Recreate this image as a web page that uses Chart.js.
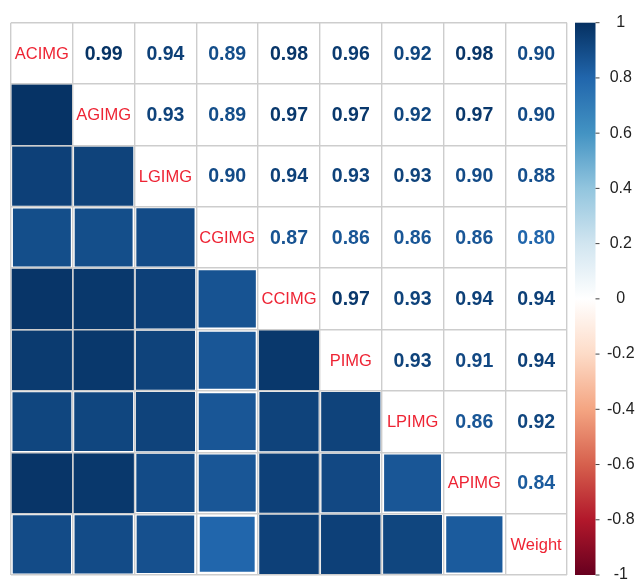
<!DOCTYPE html>
<html>
<head>
<meta charset="utf-8">
<title>Correlation matrix</title>
<script src="https://cdn.jsdelivr.net/npm/chart.js@4"></script>
<style>
  html, body { margin: 0; padding: 0; background: #ffffff; }
  canvas { display: block; }
</style>
</head>
<body>
<canvas id="corr" width="638" height="579"></canvas>
<script>
// Variables, in matrix order
const variables = ['ACIMG', 'AGIMG', 'LGIMG', 'CGIMG', 'CCIMG', 'PIMG', 'LPIMG', 'APIMG', 'Weight'];

// Upper-triangle correlations: each row holds r with the variables that follow it
const corACIMG = [0.99, 0.94, 0.89, 0.98, 0.96, 0.92, 0.98, 0.90];
const corAGIMG = [0.93, 0.89, 0.97, 0.97, 0.92, 0.97, 0.90];
const corLGIMG = [0.90, 0.94, 0.93, 0.93, 0.90, 0.88];
const corCGIMG = [0.87, 0.86, 0.86, 0.86, 0.80];
const corCCIMG = [0.97, 0.93, 0.94, 0.94];
const corPIMG  = [0.93, 0.91, 0.94];
const corLPIMG = [0.86, 0.92];
const corAPIMG = [0.84];

// Colour bar range and step
const colorbarMin = -1;
const colorbarMax = 1;
const colorbarStep = 0.2;

// Diverging red-white-blue palette
const palette = ['#67001F', '#B2182B', '#D6604D', '#F4A582', '#FDDBC7', '#FFFFFF',
                 '#D1E5F0', '#92C5DE', '#4393C3', '#2166AC', '#053061'];

function hexToRgb(h) {
  return [parseInt(h.slice(1, 3), 16), parseInt(h.slice(3, 5), 16), parseInt(h.slice(5, 7), 16)];
}
function colorAt(v) {
  const t = Math.max(0, Math.min(1, (v + 1) / 2)) * (palette.length - 1);
  const i = Math.min(palette.length - 2, Math.floor(t));
  const f = t - i;
  const a = hexToRgb(palette[i]), b = hexToRgb(palette[i + 1]);
  const c = a.map((x, k) => Math.round(x + (b[k] - x) * f));
  return 'rgb(' + c.join(',') + ')';
}

// Full symmetric matrix built from the upper-triangle rows
const upperRows = [corACIMG, corAGIMG, corLGIMG, corCGIMG, corCCIMG, corPIMG, corLPIMG, corAPIMG, []];
const n = variables.length;
const matrix = [];
for (let i = 0; i < n; i++) {
  matrix.push(new Array(n).fill(1));
}
upperRows.forEach((row, i) => {
  row.forEach((r, k) => {
    const j = i + 1 + k;
    matrix[i][j] = r;
    matrix[j][i] = r;
  });
});

// Lower triangle: one square per cell (x = column, y = row)
const squares = [];
for (let i = 0; i < n; i++) {
  for (let j = 0; j < i; j++) {
    squares.push({ x: j + 0.5, y: i + 0.5, r: matrix[i][j] });
  }
}

// Square side grows with sqrt(|r|) inside its cell
function squareRadius(ctx) {
  const chart = ctx.chart;
  const xs = chart.scales.x, ys = chart.scales.y;
  if (!xs || !ys || !ctx.raw) return 0;
  const cw = Math.abs(xs.getPixelForValue(1) - xs.getPixelForValue(0));
  const ch = Math.abs(ys.getPixelForValue(1) - ys.getPixelForValue(0));
  const side = Math.sqrt(Math.abs(ctx.raw.r)) * Math.min(cw, ch);
  return side / Math.SQRT2;
}

// Numbers in the upper triangle, names on the diagonal, colour bar on the right
const cellText = {
  id: 'cellText',
  afterDatasetsDraw(chart) {
    const { ctx } = chart;
    const xs = chart.scales.x, ys = chart.scales.y;
    ctx.save();
    ctx.textAlign = 'center';
    ctx.textBaseline = 'middle';
    for (let i = 0; i < n; i++) {
      for (let j = i; j < n; j++) {
        const px = xs.getPixelForValue(j + 0.5);
        const py = ys.getPixelForValue(i + 0.5);
        if (i === j) {
          ctx.font = '16.5px "Liberation Sans", Arial, sans-serif';
          ctx.fillStyle = '#ee2434';
          ctx.fillText(variables[i], px, py + 1);
        } else {
          ctx.font = 'bold 19.5px "Liberation Sans", Arial, sans-serif';
          ctx.fillStyle = colorAt(matrix[i][j]);
          ctx.fillText(matrix[i][j].toFixed(2), px, py + 1);
        }
      }
    }
    ctx.restore();
  },
  afterDraw(chart) {
    const { ctx, chartArea } = chart;
    const cb = chart.scales.cbar;
    const top = cb.getPixelForValue(colorbarMax);
    const bottom = cb.getPixelForValue(colorbarMin);
    const x0 = chartArea.right + 8;
    const w = 20.5;
    const grad = ctx.createLinearGradient(0, bottom, 0, top);
    palette.forEach((c, k) => grad.addColorStop(k / (palette.length - 1), c));
    ctx.save();
    ctx.fillStyle = grad;
    ctx.fillRect(x0, top, w, bottom - top);
    ctx.strokeStyle = '#444444';
    ctx.lineWidth = 1;
    cb.ticks.forEach(t => {
      const y = cb.getPixelForValue(t.value);
      ctx.beginPath();
      ctx.moveTo(x0 + w, y);
      ctx.lineTo(x0 + w + 4, y);
      ctx.stroke();
    });
    ctx.restore();
  }
};

function zeroSize(axis, horizontal) {
  return function (scale) {
    if (horizontal) scale.height = 0; else scale.width = 0;
    scale.paddingTop = scale.paddingBottom = scale.paddingLeft = scale.paddingRight = 0;
  };
}

new Chart(document.getElementById('corr'), {
  type: 'scatter',
  data: {
    datasets: [{
      data: squares,
      pointStyle: 'rect',
      pointRadius: squareRadius,
      pointHoverRadius: squareRadius,
      pointBorderWidth: 0,
      pointBackgroundColor: ctx => ctx.raw ? colorAt(ctx.raw.r) : '#000',
      pointBorderColor: 'rgba(0,0,0,0)'
    }]
  },
  options: {
    responsive: false,
    animation: false,
    events: [],
    layout: { padding: { left: 11, right: 0, top: 22.7, bottom: 4 } },
    plugins: { legend: { display: false }, tooltip: { enabled: false } },
    scales: {
      x: {
        type: 'linear', position: 'bottom', min: 0, max: n,
        ticks: { display: false, stepSize: 1 },
        grid: { color: '#cdcdcd', lineWidth: 1.4, drawTicks: false, z: 1 },
        border: { display: false },
        afterFit: zeroSize('x', true)
      },
      y: {
        type: 'linear', position: 'left', min: 0, max: n, reverse: true,
        ticks: { display: false, stepSize: 1 },
        grid: { color: '#cdcdcd', lineWidth: 1.4, drawTicks: false, z: 1 },
        border: { display: false },
        afterFit: zeroSize('y', false)
      },
      cbar: {
        type: 'linear', position: 'right', min: colorbarMin, max: colorbarMax,
        grid: { display: false, drawTicks: false, drawOnChartArea: false },
        border: { display: false },
        ticks: {
          stepSize: colorbarStep,
          autoSkip: false,
          padding: 40,
          crossAlign: 'center',
          color: '#222222',
          font: { family: '"Liberation Sans", Arial, sans-serif', size: 16 },
          callback: v => String(Number(v.toFixed(1)))
        },
        afterFit: function (scale) {
          scale.width = 71;
          scale.paddingTop = scale.paddingBottom = 0;
        }
      }
    }
  },
  plugins: [cellText]
});
</script>
</body>
</html>
